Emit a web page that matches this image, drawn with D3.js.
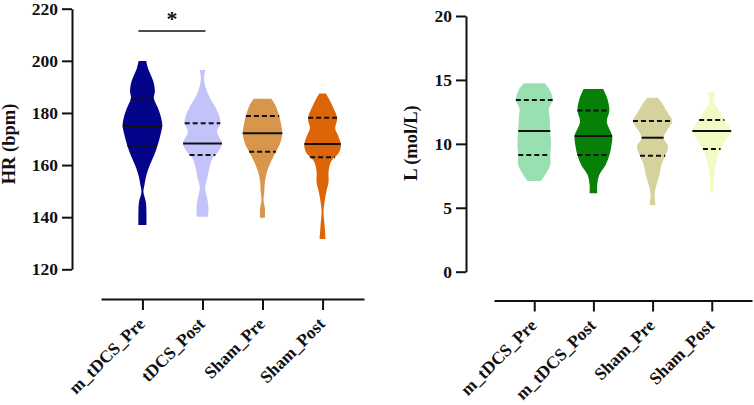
<!DOCTYPE html>
<html>
<head>
<meta charset="utf-8">
<script src="https://cdn.jsdelivr.net/npm/d3@7"></script>
<style>
  body { margin: 0; background: #fff; }
  svg text { font-family: "Liberation Serif", "Times New Roman", serif; font-weight: bold; fill: #111; }
</style>
</head>
<body>
<svg id="chart" width="754" height="405"></svg>
<script>
// ---- data ----
const hrGroups = ["m_tDCS_Pre", "tDCS_Post", "Sham_Pre", "Sham_Post"];
const lGroups = ["m_tDCS_Pre", "m_tDCS_Post", "Sham_Pre", "Sham_Post"];

const hrTicks = [120, 140, 160, 180, 200, 220];
const lTicks = [0, 5, 10, 15, 20];

// violin outlines: value levels (top -> bottom) and relative density at each level
const hrPreLevels = [199.9, 197.1, 192, 188.2, 185.6, 181.8, 178, 175.1, 171.5, 167.3, 163.9, 160, 156.2, 152.3, 149.8, 145.9, 142.1, 137];
const hrPreDensity = [0.19, 0.28, 0.55, 0.62, 0.57, 0.78, 0.94, 0.99, 0.9, 0.75, 0.59, 0.37, 0.2, 0.1, 0.05, 0.17, 0.2, 0.2];
const hrPostLevels = [196.5, 193.3, 189.5, 185.6, 181.8, 178.6, 176, 172.8, 168.3, 165.1, 162.6, 158.8, 154.9, 151.1, 147.2, 143.4, 140.2];
const hrPostDensity = [0.14, 0.08, 0.17, 0.38, 0.67, 0.85, 0.89, 0.73, 0.97, 0.78, 0.5, 0.34, 0.24, 0.13, 0.24, 0.3, 0.28];
const hrShamPreLevels = [185.4, 183, 178.6, 174.7, 172.2, 168.3, 165.1, 161.3, 157.4, 153.6, 149.8, 146.6, 143.4, 139.8];
const hrShamPreDensity = [0.44, 0.64, 0.84, 0.95, 0.99, 0.88, 0.67, 0.42, 0.22, 0.12, 0.09, 0.05, 0.12, 0.12];
const hrShamPostLevels = [187.5, 185, 181.8, 178, 174.1, 170.9, 167.7, 164.5, 161.3, 157.4, 153.6, 149.8, 145.9, 142.1, 137, 131.6];
const hrShamPostDensity = [0.17, 0.35, 0.55, 0.73, 0.63, 0.8, 0.92, 0.8, 0.42, 0.3, 0.3, 0.19, 0.1, 0.05, 0.1, 0.15];

const lPreLevels = [14.74, 14.2, 13.43, 12.78, 12.0, 11.0, 10.17, 9.13, 8.35, 7.56, 7.1];
const lPreDensity = [0.52, 0.78, 0.92, 0.74, 0.77, 0.8, 0.84, 0.8, 0.8, 0.54, 0.34];
const lPostLevels = [14.29, 13.56, 12.6, 11.73, 10.61, 9.78, 9.13, 8.35, 7.56, 6.78, 6.13];
const lPostDensity = [0.49, 0.69, 0.8, 0.67, 0.94, 0.89, 0.8, 0.61, 0.29, 0.19, 0.19];
const lShamPreLevels = [13.61, 13.04, 12.39, 11.79, 11.08, 10.48, 9.78, 9.07, 8.35, 7.56, 6.78, 6.0, 5.22];
const lShamPreDensity = [0.27, 0.53, 0.77, 0.98, 0.73, 0.55, 0.78, 0.63, 0.44, 0.34, 0.19, 0.1, 0.15];
const lShamPostLevels = [14.03, 13.3, 12.51, 11.87, 11.0, 10.3, 9.6, 8.87, 7.82, 7.04, 6.21];
const lShamPostDensity = [0.19, 0.12, 0.4, 0.63, 0.97, 0.7, 0.44, 0.27, 0.14, 0.09, 0.1];

// quartiles [Q1, median, Q3]
const hrQuartiles = [[167.3, 175.0, 185.3], [163.9, 168.3, 176.0], [165.1, 172.2, 178.8], [163.0, 168.1, 178.2]];
const lQuartiles = [[9.13, 11.0, 13.43], [9.13, 10.61, 12.6], [9.07, 10.48, 11.79], [9.6, 11.0, 11.87]];

const hrColors = ["#04048a", "#c3c3f9", "#d8964c", "#de6507"];
const lColors = ["#98dfb1", "#068006", "#d5d29c", "#f1fcc4"];

// significance bracket between groups 0 and 1 in the HR panel
const hrSigPair = [0, 1];
const hrSigValue = 211.4;
const hrSigLabel = "*";

const svg = d3.select("#chart");

// density at a given value, linear between the read levels
function densityAt(levels, dens, v) {
  for (let i = 0; i < levels.length - 1; i++) {
    let a = levels[i], b = levels[i + 1];
    if (v <= a && v >= b) {
      let t = (a - v) / (a - b);
      return dens[i] + t * (dens[i + 1] - dens[i]);
    }
  }
  return 0;
}

function drawPanel(p) {
  let g = svg.append("g");

  let y = d3.scaleLinear().domain(p.yDomain).range(p.yRange);
  let x = d3.scalePoint().domain(p.groups).range(p.xRange).padding(p.padding);
  let w = d3.scaleLinear().domain([0, 1]).range([0, 20]);

  // y axis
  let yAxis = g.append("g")
    .attr("transform", `translate(${p.yAxisX},0)`)
    .call(d3.axisLeft(y).tickValues(p.ticks).tickSize(10).tickSizeOuter(0).tickPadding(4));
  yAxis.select(".domain").attr("stroke", "#111").attr("stroke-width", 2);
  yAxis.selectAll(".tick line").attr("stroke", "#111").attr("stroke-width", 2);
  yAxis.selectAll(".tick text").style("font-size", "17.5px").attr("fill", "#111");

  // x axis
  let xAxis = g.append("g")
    .attr("transform", `translate(0,${p.xAxisY})`)
    .call(d3.axisBottom(x).tickSize(11).tickSizeOuter(0));
  xAxis.select(".domain").attr("stroke", "#111").attr("stroke-width", 2);
  xAxis.selectAll(".tick line").attr("stroke", "#111").attr("stroke-width", 2);
  xAxis.selectAll(".tick text")
    .style("font-size", "17.5px")
    .attr("fill", "#111")
    .attr("y", null).attr("dy", null)
    .attr("text-anchor", "end")
    .attr("transform", "translate(3,26) rotate(-45)");

  // y title
  g.append("text")
    .attr("transform", `translate(${p.titleX},${p.titleY}) rotate(-90)`)
    .attr("text-anchor", "middle")
    .style("font-size", "18.5px")
    .text(p.title);

  // violins
  p.groups.forEach((name, i) => {
    let cx = x(name);
    let pts = p.levels[i].map((v, k) => [v, p.density[i][k]]);
    let area = d3.area()
      .y(d => y(d[0]))
      .x0(d => cx - w(d[1]))
      .x1(d => cx + w(d[1]))
      .curve(d3.curveCatmullRom);
    g.append("path")
      .attr("d", area(pts))
      .attr("fill", p.colors[i]);

    // quartile lines
    p.quartiles[i].forEach((q, j) => {
      let hw = w(densityAt(p.levels[i], p.density[i], q));
      g.append("line")
        .attr("x1", cx - hw).attr("x2", cx + hw)
        .attr("y1", y(q)).attr("y2", y(q))
        .attr("stroke", "#111")
        .attr("stroke-width", 2)
        .attr("stroke-dasharray", j === 1 ? null : "5,3");
    });
  });

  return { x, y, g };
}

let hr = drawPanel({
  groups: hrGroups, ticks: hrTicks,
  levels: [hrPreLevels, hrPostLevels, hrShamPreLevels, hrShamPostLevels],
  density: [hrPreDensity, hrPostDensity, hrShamPreDensity, hrShamPostDensity],
  quartiles: hrQuartiles, colors: hrColors,
  yDomain: [120, 220], yRange: [269.3, 8.7],
  xRange: [101, 364], padding: 0.69,
  yAxisX: 72, xAxisY: 299,
  title: "HR (bpm)", titleX: 15, titleY: 144
});

drawPanel({
  groups: lGroups, ticks: lTicks,
  levels: [lPreLevels, lPostLevels, lShamPreLevels, lShamPostLevels],
  density: [lPreDensity, lPostDensity, lShamPreDensity, lShamPostDensity],
  quartiles: lQuartiles, colors: lColors,
  yDomain: [0, 20], yRange: [271.7, 16],
  xRange: [494, 752], padding: 0.68,
  yAxisX: 466, xAxisY: 300.5,
  title: "L (mol/L)", titleX: 417, titleY: 143
});

// significance bar
let sx0 = hr.x(hrGroups[hrSigPair[0]]) - 4;
let sx1 = hr.x(hrGroups[hrSigPair[1]]) + 3;
let sy = hr.y(hrSigValue);
hr.g.append("line")
  .attr("x1", sx0).attr("x2", sx1)
  .attr("y1", sy).attr("y2", sy)
  .attr("stroke", "#111").attr("stroke-width", 1.5);
hr.g.append("text")
  .attr("x", (sx0 + sx1) / 2)
  .attr("y", sy - 5)
  .attr("text-anchor", "middle")
  .style("font-size", "22px")
  .text(hrSigLabel);
</script>
</body>
</html>
